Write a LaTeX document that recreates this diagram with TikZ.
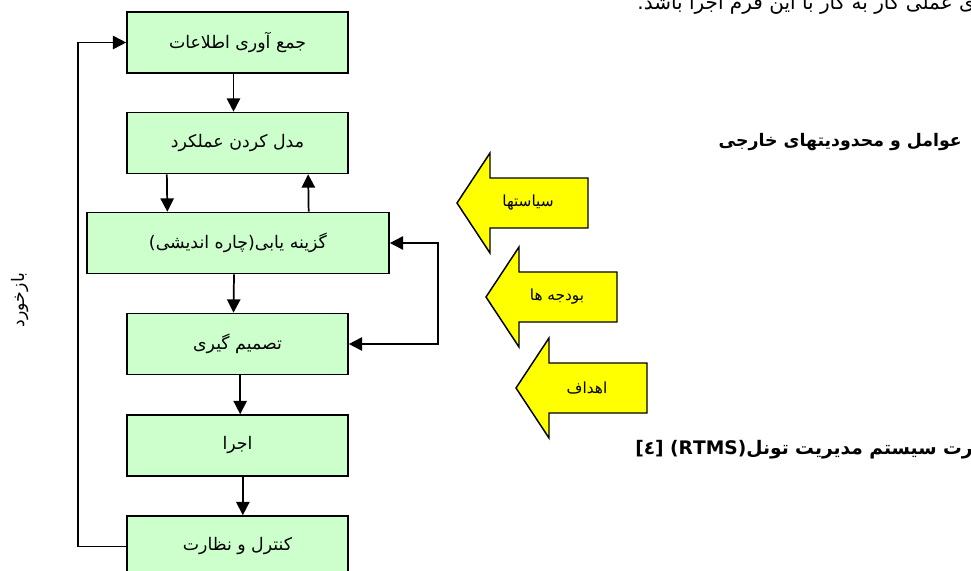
\documentclass[tikz,border=0pt]{standalone}
\usepackage{fontspec}
\newfontfamily\arabicfont[Script=Arabic]{DejaVu Sans}
\TeXXeTstate=1
\usetikzlibrary{arrows.meta}
\definecolor{boxgreen}{HTML}{CCFFCC}
\definecolor{arrowyellow}{HTML}{FFFF00}
\tikzset{
  procbox/.style={draw, line width=1.2pt, fill=boxgreen, minimum width=165.75pt, minimum height=45.75pt, inner sep=0pt, font=\arabicfont\fontsize{13}{15}\selectfont},
  widebox/.style={procbox, minimum width=226.5pt},
  conn/.style={line width=1.3pt, -{Triangle[length=10pt,width=10pt]}},
  yarrow/.style={draw, line width=1.1pt, fill=arrowyellow, line join=miter},
  ylabel/.style={inner sep=0pt, font=\arabicfont\fontsize{11.5}{13}\selectfont},
  plain/.style={inner sep=0pt, font=\arabicfont\fontsize{13}{15}\selectfont},
  heading/.style={inner sep=0pt, font=\arabicfont\bfseries\fontsize{13}{15}\selectfont}
}
\begin{document}
\begin{tikzpicture}[x=0.75pt, y=-0.75pt]
  \useasboundingbox (0,0) rectangle (971,571);
  % process boxes
  \node[procbox] (collect) at (237.5,42.5) {\beginR جمع آوری اطلاعات\endR};
  \node[procbox] (model) at (237.5,143) {\beginR مدل کردن عملکرد\endR};
  \node[widebox] (options) at (238,243) {\beginR گزینه یابی(چاره اندیشی)\endR};
  \node[procbox] (decide) at (237.5,344) {\beginR تصمیم گیری\endR};
  \node[procbox] (execute) at (237.5,445.5) {\beginR اجرا\endR};
  \node[procbox] (control) at (237.5,546.5) {\beginR کنترل و نظارت\endR};

  \draw[conn] ([xshift=-3pt]collect.south) -- ([xshift=-3pt]model.north);
  \draw[conn] ([xshift=-53pt]model.south) -- ([xshift=-53pt]options.north);
  \draw[conn] ([xshift=53pt]options.north) -- ([xshift=53pt]model.south);
  \draw[conn] ([xshift=-3pt]options.south) -- ([xshift=-3pt]decide.north);
  \draw[conn] ([xshift=2pt]decide.south) -- ([xshift=2pt]execute.north);
  \draw[conn] ([xshift=4pt]execute.south) -- ([xshift=4pt]control.north);
  \draw[conn, {Triangle[length=10pt,width=10pt]}-{Triangle[length=10pt,width=10pt]}] (options.east) -- ++(48,0) |- (decide.east);
  \draw[conn] (control.west) -- ++(-48,0) |- (collect.west);

  \node[plain, rotate=90] (feedback) at (20,300) {\beginR بازخورد\endR};

  % external factors
  \foreach \tx/\ty/\lab [count=\i] in {457/203/سیاستها, 486/297/بودجه ها, 516/388/اهداف} {
    \draw[yarrow] (\tx,\ty) -- ++(33,-50) -- ++(0,25) -- ++(98,0) -- ++(0,50) -- ++(-98,0) -- ++(0,25) -- cycle;
    \node[ylabel] (factor\i) at (\tx+71,\ty) {\beginR \lab\endR};
  }

  \node[heading, anchor=east] (factors) at (962,142) {\beginR عوامل و محدودیتهای خارجی\endR};
  \node[heading, font=\arabicfont\bfseries\fontsize{14}{16}\selectfont, anchor=east] (caption) at (973,450) {\beginR رت سیستم مدیریت تونل\beginL(RTMS)\endL{} [٤]\endR};
  \node[plain, font=\arabicfont\fontsize{15}{17}\selectfont, anchor=base east] (topline) at (975,9) {\beginR ی عملی کار به کار با این فرم اجرا باشد.\endR};
\end{tikzpicture}
\end{document}
